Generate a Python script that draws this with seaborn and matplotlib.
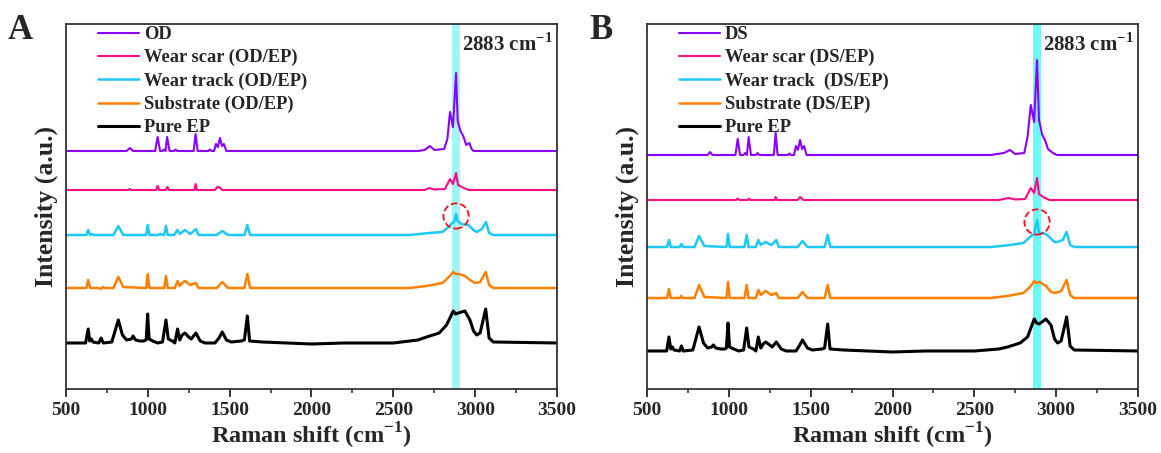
import numpy as np
import pandas as pd
import matplotlib
matplotlib.use("Agg")
import matplotlib.pyplot as plt
import seaborn as sns

# Raman spectra: (shift cm-1, height above the trace's own baseline)
# panel A
od_a = [(500, 0), (870, 0), (891, 3), (910, 0), (1045, 0), (1060, 14), (1075, 0), (1090, 0), (1098, 1.5),
        (1108, 0), (1118, 14), (1133, 0), (1160, 0), (1170, 1.5), (1180, 0), (1280, 0), (1292, 17), (1305, 0),
        (1370, 0), (1378, 1.5), (1390, 0), (1405, 0), (1416, 7), (1428, 4), (1441, 13), (1453, 5), (1465, 7),
        (1480, 0), (2650, 0), (2690, 1), (2724, 5), (2750, 1), (2810, 2), (2830, 12), (2846, 39), (2864, 24),
        (2883, 78), (2893, 30), (2910, 20), (2927, 15), (2945, 6), (2964, 8), (2978, 2), (2990, 0), (3500, 0)]
scar_a = [(500, 0), (880, 0), (890, 1), (900, 0), (1050, 0), (1060, 4), (1070, 0), (1110, 0), (1120, 3),
          (1130, 0), (1285, 0), (1292, 6), (1300, 0), (1410, 0), (1425, 3), (1440, 2.5), (1455, 0), (2690, 0),
          (2720, 2), (2750, 0.5), (2815, 1), (2846, 11), (2864, 6), (2883, 17), (2895, 5), (2930, 2), (2960, 0),
          (3500, 0)]
track_a = [(500, 0), (625, 0), (636, 5), (648, 0), (660, 1), (670, 0), (790, 0), (820, 9), (850, 0), (990, 0),
           (999, 10), (1010, 0), (1060, 0), (1075, 1), (1100, 0), (1111, 9), (1122, 0), (1160, 0), (1182, 5),
           (1195, 1), (1227, 5), (1260, 1), (1294, 6), (1310, 0), (1420, 0), (1455, 4), (1490, 0), (1590, 0),
           (1608, 10), (1625, 0), (2600, 0), (2720, 2), (2800, 3), (2836, 8), (2860, 12), (2872, 13), (2883, 21),
           (2893, 14), (2915, 11), (2958, 10), (2990, 5), (3009, 3), (3040, 6), (3066, 13), (3085, 2), (3110, 0),
           (3500, 0)]
sub_a = [(500, 0), (625, 0), (636, 8), (648, 0), (700, 0), (715, -1), (725, 1), (740, 0), (790, 0), (820, 11),
         (850, 1), (990, 0), (999, 14), (1010, 0), (1100, 0), (1111, 12), (1122, 0), (1165, 0), (1182, 7),
         (1195, 2), (1210, 5), (1227, 7), (1260, 3), (1294, 5), (1310, 0), (1420, 0), (1455, 6), (1490, 0),
         (1590, 0), (1608, 14), (1625, 0), (2600, 0), (2703, 2), (2800, 5), (2845, 12), (2866, 16), (2880, 14),
         (2900, 14), (2937, 12), (2968, 8), (2998, 5), (3030, 6), (3064, 16), (3085, 3), (3110, 0), (3500, 0)]
ep_a = [(500, 0), (620, 0), (636, 14), (645, 2), (655, 4), (665, 1), (700, 0), (715, 5), (728, 0), (780, 1),
        (820, 23), (845, 8), (870, 3), (900, 4), (910, 7), (925, 3), (950, 2), (975, 2), (990, 3), (999, 29),
        (1008, 4), (1030, 2), (1060, 0), (1090, 1), (1111, 23), (1125, 4), (1150, 2), (1165, 0), (1182, 14),
        (1195, 3), (1210, 8), (1227, 10), (1250, 6), (1265, 4), (1294, 10), (1320, 2), (1350, 0), (1410, 0),
        (1435, 5), (1455, 11), (1480, 3), (1510, 1), (1570, 2), (1590, 3), (1608, 27), (1622, 2), (1700, 1),
        (2000, -1), (2200, 0), (2500, 0), (2650, 3), (2703, 6), (2780, 10), (2825, 18), (2866, 32), (2880, 29),
        (2897, 30), (2937, 32), (2968, 23), (2990, 12), (3009, 8), (3030, 10), (3064, 34), (3085, 5),
        (3110, 1), (3500, 0)]
# panel B
ds_b = [(500, 0), (870, 0), (885, 3), (900, 0), (1040, 0), (1054, 16), (1068, 0), (1090, 0), (1100, 2),
        (1110, 0), (1121, 18), (1135, 0), (1165, 0), (1175, 2), (1185, 0), (1275, 0), (1286, 22), (1298, 0),
        (1360, 0), (1370, 1.5), (1380, 0), (1398, 0), (1410, 9), (1422, 5), (1435, 15), (1447, 6), (1460, 9),
        (1475, 0), (2600, 0), (2680, 2), (2717, 5), (2750, 1), (2805, 2), (2825, 18), (2845, 50), (2865, 33),
        (2883, 95), (2895, 35), (2915, 20), (2931, 15), (2950, 6), (2980, 2), (3005, 0), (3500, 0)]
scar_b = [(500, 0), (1045, 0), (1054, 1.5), (1065, 0), (1115, 0), (1121, 1.5), (1130, 0), (1280, 0),
          (1286, 3), (1295, 0), (1420, 0), (1435, 3), (1455, 0), (2650, 0), (2710, 2), (2750, 0.5), (2810, 1),
          (2845, 12), (2865, 7), (2883, 22), (2895, 6), (2930, 2), (2960, 0), (3500, 0)]
track_b = [(500, 0), (622, 0), (634, 7), (645, 0), (700, 0), (710, 3), (720, 0), (790, 0), (818, 11),
           (850, 1), (985, 0), (995, 13), (1005, 0), (1095, 0), (1109, 12), (1120, 0), (1165, 0), (1180, 7),
           (1195, 2), (1225, 5), (1260, 2), (1290, 7), (1305, 0), (1420, 0), (1450, 6), (1480, 0), (1585, 0),
           (1604, 12), (1620, 0), (2600, 0), (2720, 2), (2800, 4), (2840, 10), (2865, 13), (2883, 27),
           (2895, 14), (2920, 14), (2945, 12), (2990, 5), (3009, 5), (3040, 7), (3064, 15), (3085, 2),
           (3110, 0), (3500, 0)]
sub_b = [(500, 0), (622, 0), (634, 9), (645, 0), (700, 0), (710, 2), (720, 0), (790, 0), (818, 13), (850, 1),
         (985, 0), (995, 16), (1005, 0), (1095, 0), (1109, 13), (1120, 0), (1165, 0), (1180, 8), (1195, 3),
         (1225, 7), (1260, 3), (1290, 5), (1305, 0), (1420, 0), (1450, 6), (1480, 0), (1585, 0), (1604, 13),
         (1620, 0), (2600, 0), (2703, 2), (2800, 5), (2845, 12), (2866, 17), (2880, 15), (2900, 16),
         (2937, 12), (2968, 6), (2998, 5), (3030, 7), (3064, 18), (3085, 3), (3110, 0), (3500, 0)]
ep_b = [(500, 0), (620, 0), (634, 14), (645, 2), (655, 4), (665, 1), (700, 0), (710, 5), (722, 0), (780, 1),
        (818, 24), (845, 8), (870, 3), (895, 4), (905, 6), (920, 3), (950, 2), (975, 2), (985, 3), (995, 28),
        (1004, 4), (1030, 2), (1060, 0), (1090, 1), (1109, 23), (1123, 4), (1150, 2), (1165, 0), (1180, 14),
        (1195, 3), (1210, 7), (1225, 9), (1250, 6), (1265, 4), (1290, 9), (1320, 2), (1350, 0), (1410, 0),
        (1430, 5), (1450, 11), (1480, 3), (1510, 1), (1570, 2), (1585, 3), (1604, 27), (1618, 2), (1700, 1),
        (2000, -1), (2200, 0), (2500, 0), (2650, 2), (2703, 4), (2780, 8), (2825, 14), (2866, 32), (2880, 28),
        (2897, 27), (2937, 32), (2968, 26), (2990, 12), (3009, 8), (3030, 10), (3064, 34), (3085, 5),
        (3110, 1), (3500, 0)]

labels_a = ["OD", "Wear scar (OD/EP)", "Wear track (OD/EP)", "Substrate (OD/EP)", "Pure EP"]
labels_b = ["DS", "Wear scar (DS/EP)", "Wear track  (DS/EP)", "Substrate (DS/EP)", "Pure EP"]
spectra_a = [od_a, scar_a, track_a, sub_a, ep_a]
spectra_b = [ds_b, scar_b, track_b, sub_b, ep_b]
# vertical stacking offsets of each trace
offsets_a = [238, 199, 154, 101, 46]
offsets_b = [234, 189, 142, 91, 38]
colors = ["#8a00ff", "#ff0a82", "#1ec8f5", "#ff8000", "#000000"]
widths = [1.5, 1.5, 1.8, 1.8, 2.2]

sns.set_style("ticks")
plt.rcParams["font.family"] = ["Liberation Serif", "DejaVu Serif"]
plt.rcParams["font.weight"] = "bold"
plt.rcParams["mathtext.fontset"] = "custom"
plt.rcParams["mathtext.bf"] = "Liberation Serif:bold"
plt.rcParams["mathtext.rm"] = "Liberation Serif:bold"

fig = plt.figure(figsize=(11.61, 4.53), dpi=100)
ax_a = fig.add_axes([0.0568, 0.1413, 0.4230, 0.8057])
ax_b = fig.add_axes([0.5573, 0.1413, 0.4229, 0.8057])


def draw(ax, spectra, labels, offsets, band_color, letter):
    rows = []
    for lab, spec, off in zip(labels, spectra, offsets):
        for x, y in spec:
            rows.append({"shift": x, "intensity": y + off, "sample": lab})
    df = pd.DataFrame(rows)
    ax.axvspan(2860, 2905, color=band_color, lw=0, zorder=0)
    for lab, c, lw in zip(labels, colors, widths):
        sns.lineplot(data=df[df["sample"] == lab], x="shift", y="intensity", color=c, lw=lw,
                     estimator=None, sort=False, ax=ax, label=lab)
    # dashed circle marking the 2883 peak on the wear-track trace
    trk = dict(spectra[2])[2883] + offsets[2]
    ax.scatter([2883], [trk - 2], s=330, facecolors="none", edgecolors="#e8141e",
               linestyles="--", linewidths=1.3, zorder=5)
    ax.set_xlim(500, 3500)
    ax.set_ylim(0, 365)
    ax.set_xticks(np.arange(500, 3501, 500))
    ax.set_xticks(np.arange(750, 3500, 500), minor=True)
    ax.set_yticks([])
    ax.tick_params(axis="x", which="major", direction="out", length=6, width=1.3, labelsize=14)
    ax.tick_params(axis="x", which="minor", direction="out", length=3, width=1.1)
    for lbl in ax.get_xticklabels():
        lbl.set_fontweight("bold")
    for s in ax.spines.values():
        s.set_linewidth(1.3)
        s.set_color("#333333")
    ax.set_xlabel("Raman shift (cm$^{-1}$)", fontsize=17.5, fontweight="bold", labelpad=1)
    ax.set_ylabel("Intensity (a.u.)", fontsize=18.5, fontweight="bold", labelpad=6)
    ax.text(2920, 356, "2883 cm$^{-1}$", fontsize=15, fontweight="bold", va="top", ha="left")
    leg = ax.legend(loc="upper left", bbox_to_anchor=(0.039, 1.03), frameon=False, fontsize=13.3,
                    handlelength=2.2, handletextpad=0.28, labelspacing=0.33, borderaxespad=0.3)
    for t in leg.get_texts():
        t.set_fontweight("bold")
    pos = ax.get_position()
    fig.text(pos.x0 - 0.05, 0.968, letter, fontsize=25, fontweight="bold", va="top", ha="left")


draw(ax_a, spectra_a, labels_a, offsets_a, "#a3f4f4", "A")
draw(ax_b, spectra_b, labels_b, offsets_b, "#70f8f8", "B")

fig.savefig("out.png", dpi=100)
